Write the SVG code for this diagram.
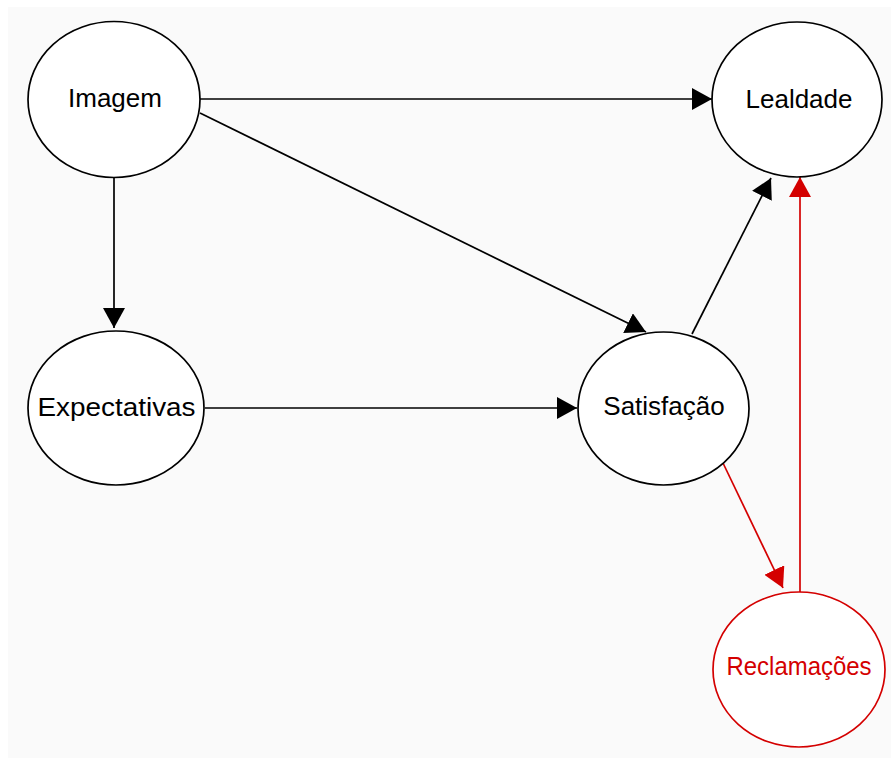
<svg xmlns="http://www.w3.org/2000/svg" width="891" height="758" viewBox="0 0 891 758">
<defs>
<style>
.node{fill:#ffffff;stroke:#000;stroke-width:1.7}
.red .node{stroke:#d40000}
.lbl{font-family:"Liberation Sans",Arial,sans-serif;font-size:26px;text-anchor:middle;fill:#000}
.red .lbl{fill:#d40000}
.edge{stroke:#000;stroke-width:1.7;fill:none}
.edge.r{stroke:#d40000}
</style>
<marker id="ab" viewBox="0 0 20 22" refX="20" refY="11" markerWidth="20" markerHeight="22" markerUnits="userSpaceOnUse" orient="auto"><path d="M0,0 L20,11 L0,22 Z" fill="#000"/></marker>
<marker id="ar" viewBox="0 0 20 22" refX="20" refY="11" markerWidth="20" markerHeight="22" markerUnits="userSpaceOnUse" orient="auto"><path d="M0,0 L20,11 L0,22 Z" fill="#d40000"/></marker>
</defs>
<rect x="0" y="0" width="891" height="758" fill="#ffffff"/>
<rect x="8" y="7" width="883" height="751" fill="#fafafa"/>
<g id="edges">
<line class="edge" x1="200" y1="99" x2="712" y2="99" marker-end="url(#ab)"/>
<line class="edge" x1="200" y1="113" x2="646" y2="332" marker-end="url(#ab)"/>
<line class="edge" x1="114" y1="177" x2="114" y2="328" marker-end="url(#ab)"/>
<line class="edge" x1="205" y1="408" x2="577" y2="408" marker-end="url(#ab)"/>
<line class="edge" x1="692" y1="334" x2="771" y2="178" marker-end="url(#ab)"/>
<line class="edge r" x1="723" y1="463" x2="783" y2="588" marker-end="url(#ar)"/>
<line class="edge r" x1="800" y1="592" x2="800" y2="177" marker-end="url(#ar)"/>
</g>
<g id="imagem"><ellipse class="node" cx="114" cy="99.5" rx="86" ry="78"/><text class="lbl" x="115" y="107">Imagem</text></g>
<g id="lealdade"><ellipse class="node" cx="797" cy="99.5" rx="85" ry="77.5"/><text class="lbl" x="799" y="108">Lealdade</text></g>
<g id="expectativas"><ellipse class="node" cx="116" cy="408" rx="88" ry="77"/><text class="lbl" x="116.5" y="416" textLength="158" lengthAdjust="spacingAndGlyphs">Expectativas</text></g>
<g id="satisfacao"><ellipse class="node" cx="663.5" cy="408.5" rx="85.5" ry="76.5"/><text class="lbl" x="664" y="415">Satisfação</text></g>
<g id="reclamacoes" class="red"><ellipse class="node" cx="799" cy="669.5" rx="86" ry="77.5"/><text class="lbl" x="799" y="675" textLength="145" lengthAdjust="spacingAndGlyphs">Reclamações</text></g>
</svg>
